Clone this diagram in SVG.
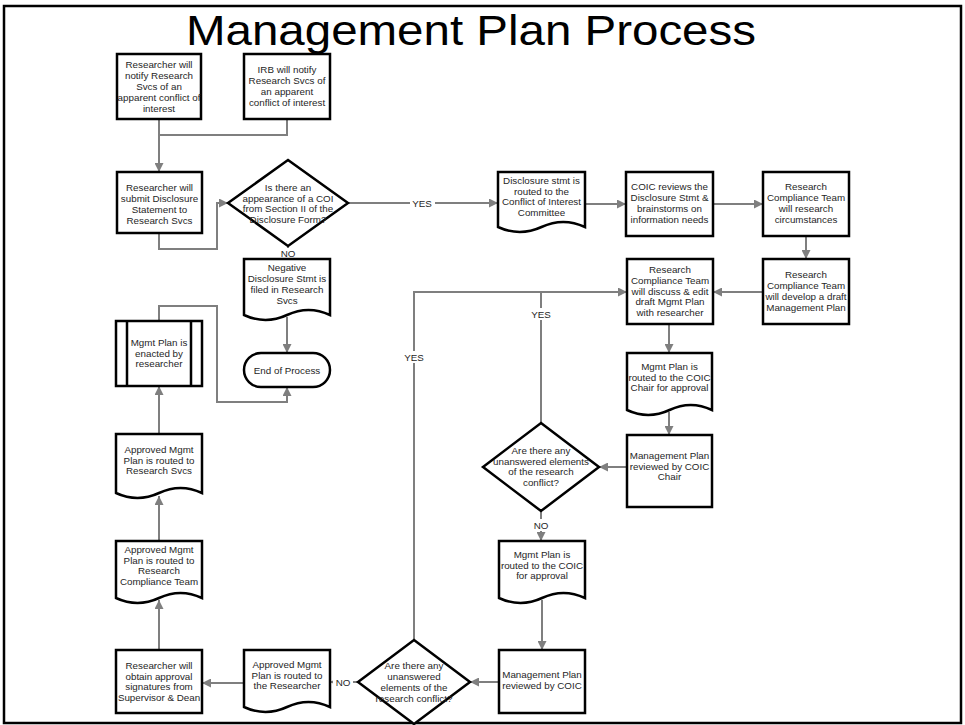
<svg xmlns="http://www.w3.org/2000/svg" width="965" height="725" viewBox="0 0 965 725">
<defs>
<style>
.s{fill:#fff;stroke:#000;stroke-width:2.5}
.c{fill:none;stroke:#7f7f7f;stroke-width:2}
.a{marker-end:url(#ah)}
.t{font-family:"Liberation Sans",Arial,sans-serif;font-size:9.8px;fill:#262626;text-anchor:middle}
.lb{fill:#fff}
</style>
<marker id="ah" viewBox="0 0 10 10" refX="10" refY="5" markerWidth="10" markerHeight="9" markerUnits="userSpaceOnUse" orient="auto"><path d="M0,0 L10,5 L0,10 z" fill="#7f7f7f"/></marker>
</defs>
<rect x="0" y="0" width="965" height="725" fill="#fff"/>
<rect x="4" y="6" width="957" height="717" fill="none" stroke="#000" stroke-width="2.5"/>
<text x="471" y="45" font-family="'Liberation Sans',Arial,sans-serif" font-size="43" fill="#000" text-anchor="middle" textLength="570" lengthAdjust="spacingAndGlyphs">Management Plan Process</text>

<g id="connectors">
<path class="c a" d="M159,119 V172"/>
<path class="c" d="M287,119 V135 H159"/>
<path class="c a" d="M159,233 V249 H217 V203 H228"/>
<path class="c a" d="M348,203 H498"/>
<path class="c" d="M288,246 V259"/>
<path class="c a" d="M287,317 V353"/>
<path class="c a" d="M159,321 V306 H217 V402 H287 V387"/>
<path class="c a" d="M159,434 V386"/>
<path class="c a" d="M159,541 V496"/>
<path class="c a" d="M159,650 V600"/>
<path class="c a" d="M244,683 H202"/>
<path class="c a" d="M358,682 H330"/>
<path class="c a" d="M499,682 H470"/>
<path class="c a" d="M542,600 V650"/>
<path class="c a" d="M541,511 V541"/>
<path class="c a" d="M627,467 H599"/>
<path class="c a" d="M669,412 V435"/>
<path class="c a" d="M669,324 V353"/>
<path class="c a" d="M763,292 H713"/>
<path class="c a" d="M806,236 V259"/>
<path class="c a" d="M713,204 H763"/>
<path class="c a" d="M585,204 H626"/>
<path class="c a" d="M414,640 V292 H627"/>
<path class="c" d="M541,423 V292"/>
<rect class="lb" x="410" y="197" width="25" height="12"/>
<text class="t" x="422" y="206.5">YES</text>
<rect class="lb" x="277" y="248" width="22" height="11"/>
<text class="t" x="288" y="257">NO</text>
<rect class="lb" x="333" y="676" width="20" height="12"/>
<text class="t" x="343" y="685.5">NO</text>
<rect class="lb" x="531" y="519" width="20" height="12"/>
<text class="t" x="541" y="528.5">NO</text>
<rect class="lb" x="401" y="351" width="26" height="12"/>
<text class="t" x="414" y="360.5">YES</text>
<rect class="lb" x="528" y="308" width="26" height="12"/>
<text class="t" x="541" y="317.5">YES</text>
</g>

<g id="n1"><rect class="s" x="117" y="54" width="84" height="65"/>
<text class="t" y="68.4"><tspan x="159">Researcher will</tspan><tspan x="159" dy="10.8">notify Research</tspan><tspan x="159" dy="10.8">Svcs of an</tspan><tspan x="159" dy="10.8">apparent conflict of</tspan><tspan x="159" dy="10.8">interest</tspan></text></g>

<g id="n2"><rect class="s" x="244" y="54" width="86" height="65"/>
<text class="t" y="73.3"><tspan x="287">IRB will notify</tspan><tspan x="287" dy="10.8">Research Svcs of</tspan><tspan x="287" dy="10.8">an apparent</tspan><tspan x="287" dy="10.8">conflict of interest</tspan></text></g>

<g id="n3"><rect class="s" x="117" y="172" width="85" height="61"/>
<text class="t" y="191.3"><tspan x="159.5">Researcher will</tspan><tspan x="159.5" dy="10.8">submit Disclosure</tspan><tspan x="159.5" dy="10.8">Statement to</tspan><tspan x="159.5" dy="10.8">Research Svcs</tspan></text></g>

<g id="d1"><path class="s" d="M288,160 L348,203 L288,246 L228,203 Z"/>
<text class="t" y="190.8"><tspan x="288">Is there an</tspan><tspan x="288" dy="10.8">appearance of a COI</tspan><tspan x="288" dy="10.8">from Section II of the</tspan><tspan x="288" dy="10.8">Disclosure Form?</tspan></text></g>

<g id="n4"><path class="s" d="M244,259 H330 V315 Q308.5,305 287,315 Q265.5,325 244,315 Z"/>
<text class="t" y="271.3"><tspan x="287">Negative</tspan><tspan x="287" dy="10.8">Disclosure Stmt is</tspan><tspan x="287" dy="10.8">filed in Research</tspan><tspan x="287" dy="10.8">Svcs</tspan></text></g>

<g id="n5"><rect class="s" x="244" y="353" width="86" height="34" rx="17"/>
<text class="t" x="287" y="373.5">End of Process</text></g>

<g id="n6"><rect class="s" x="116" y="321" width="86" height="65"/>
<path d="M127,321 V386 M191,321 V386" stroke="#000" stroke-width="2.5"/>
<text class="t" y="345.7"><tspan x="159">Mgmt Plan is</tspan><tspan x="159" dy="10.8">enacted by</tspan><tspan x="159" dy="10.8">researcher</tspan></text></g>

<g id="n7"><path class="s" d="M116,434 H202 V493 Q180.5,483 159,493 Q137.5,503 116,493 Z"/>
<text class="t" y="452.7"><tspan x="159">Approved Mgmt</tspan><tspan x="159" dy="10.8">Plan is routed to</tspan><tspan x="159" dy="10.8">Research Svcs</tspan></text></g>

<g id="n8"><path class="s" d="M116,541 H202 V598 Q180.5,588 159,598 Q137.5,608 116,598 Z"/>
<text class="t" y="552.8"><tspan x="159">Approved Mgmt</tspan><tspan x="159" dy="10.8">Plan is routed to</tspan><tspan x="159" dy="10.8">Research</tspan><tspan x="159" dy="10.8">Compliance Team</tspan></text></g>

<g id="n9"><rect class="s" x="116" y="650" width="86" height="63"/>
<text class="t" y="668.8"><tspan x="159">Researcher will</tspan><tspan x="159" dy="10.8">obtain approval</tspan><tspan x="159" dy="10.8">signatures from</tspan><tspan x="159" dy="10.8">Supervisor &amp; Dean</tspan></text></g>

<g id="n10"><path class="s" d="M244,650 H330 V707 Q308.5,697 287,707 Q265.5,717 244,707 Z"/>
<text class="t" y="667.7"><tspan x="287">Approved Mgmt</tspan><tspan x="287" dy="10.8">Plan is routed to</tspan><tspan x="287" dy="10.8">the Researcher</tspan></text></g>

<g id="d3"><path class="s" d="M414,640 L470,682 L414,724 L358,682 Z"/>
<text class="t" y="669.3"><tspan x="414">Are there any</tspan><tspan x="414" dy="10.8">unanswered</tspan><tspan x="414" dy="10.8">elements of the</tspan><tspan x="414" dy="10.8">research conflict?</tspan></text></g>

<g id="n11"><rect class="s" x="499" y="650" width="86" height="63"/>
<text class="t" y="678.1"><tspan x="542">Management Plan</tspan><tspan x="542" dy="10.8">reviewed by COIC</tspan></text></g>

<g id="n12"><path class="s" d="M499,541 H585 V598 Q563.5,588 542,598 Q520.5,608 499,598 Z"/>
<text class="t" y="557.7"><tspan x="542">Mgmt Plan is</tspan><tspan x="542" dy="10.8">routed to the COIC</tspan><tspan x="542" dy="10.8">for approval</tspan></text></g>

<g id="d2"><path class="s" d="M541,423 L599,467 L541,511 L483,467 Z"/>
<text class="t" y="453.8"><tspan x="541">Are there any</tspan><tspan x="541" dy="10.8">unanswered elements</tspan><tspan x="541" dy="10.8">of the research</tspan><tspan x="541" dy="10.8">conflict?</tspan></text></g>

<g id="n13"><rect class="s" x="627" y="435" width="85" height="72"/>
<text class="t" y="458.7"><tspan x="669.5">Management Plan</tspan><tspan x="669.5" dy="10.8">reviewed by COIC</tspan><tspan x="669.5" dy="10.8">Chair</tspan></text></g>

<g id="n14"><path class="s" d="M627,353 H712 V410 Q690.75,400 669.5,410 Q648.25,420 627,410 Z"/>
<text class="t" y="369.7"><tspan x="669.5">Mgmt Plan is</tspan><tspan x="669.5" dy="10.8">routed to the COIC</tspan><tspan x="669.5" dy="10.8">Chair for approval</tspan></text></g>

<g id="n15"><rect class="s" x="627" y="259" width="86" height="65"/>
<text class="t" y="272.9"><tspan x="670">Research</tspan><tspan x="670" dy="10.8">Compliance Team</tspan><tspan x="670" dy="10.8">will discuss &amp; edit</tspan><tspan x="670" dy="10.8">draft Mgmt Plan</tspan><tspan x="670" dy="10.8">with researcher</tspan></text></g>

<g id="n16"><rect class="s" x="763" y="259" width="86" height="65"/>
<text class="t" y="278.3"><tspan x="806">Research</tspan><tspan x="806" dy="10.8">Compliance Team</tspan><tspan x="806" dy="10.8">will develop a draft</tspan><tspan x="806" dy="10.8">Management Plan</tspan></text></g>

<g id="n17"><rect class="s" x="763" y="172" width="86" height="64"/>
<text class="t" y="190.3"><tspan x="806">Research</tspan><tspan x="806" dy="10.8">Compliance Team</tspan><tspan x="806" dy="10.8">will research</tspan><tspan x="806" dy="10.8">circumstances</tspan></text></g>

<g id="n18"><rect class="s" x="626" y="172" width="87" height="64"/>
<text class="t" y="190.3"><tspan x="669.5">COIC reviews the</tspan><tspan x="669.5" dy="10.8">Disclosure Stmt &amp;</tspan><tspan x="669.5" dy="10.8">brainstorms on</tspan><tspan x="669.5" dy="10.8">information needs</tspan></text></g>

<g id="n19"><path class="s" d="M498,172 H585 V227 Q563.25,217 541.5,227 Q519.75,237 498,227 Z"/>
<text class="t" y="183.8"><tspan x="541.5">Disclosure stmt is</tspan><tspan x="541.5" dy="10.8">routed to the</tspan><tspan x="541.5" dy="10.8">Conflict of Interest</tspan><tspan x="541.5" dy="10.8">Committee</tspan></text></g>
</svg>
